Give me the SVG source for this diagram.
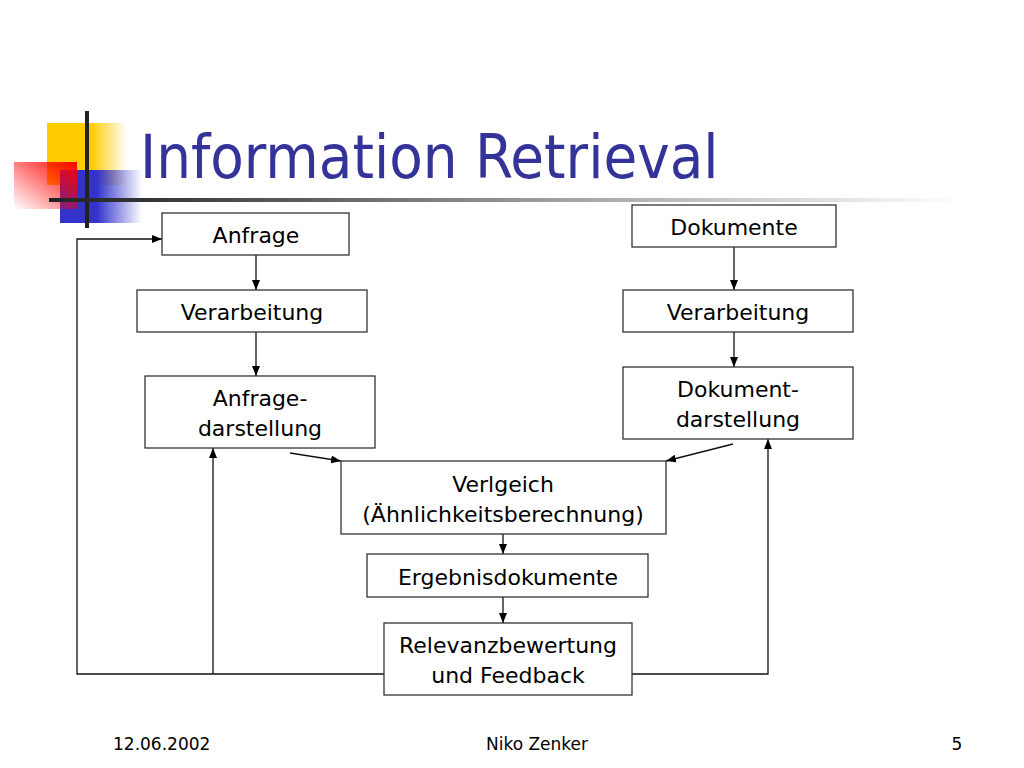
<svg xmlns="http://www.w3.org/2000/svg" width="1024" height="768" viewBox="0 0 1024 768">
<defs>
<style>
.box{fill:#fff;stroke:#333;stroke-width:1.3}
.t{font-family:"DejaVu Sans",sans-serif;font-size:22px;fill:#000;text-anchor:middle}
.c{fill:none;stroke:#111;stroke-width:1.3}
.f{font-family:"DejaVu Sans",sans-serif;font-size:17px;fill:#000}
</style>
<marker id="ah" markerWidth="10" markerHeight="8" refX="10" refY="4" orient="auto" markerUnits="userSpaceOnUse">
<path d="M0,0 L10,4 L0,8 Z" fill="#000"/>
</marker>
<linearGradient id="rule" x1="0" y1="0" x2="1" y2="0">
<stop offset="0" stop-color="#222"/>
<stop offset="0.1" stop-color="#333"/>
<stop offset="0.6" stop-color="#aaa"/>
<stop offset="1" stop-color="#fff"/>
</linearGradient>
<linearGradient id="yel" x1="0" y1="0" x2="1" y2="0">
<stop offset="0" stop-color="#FFCC00"/>
<stop offset="0.55" stop-color="#FFCC00"/>
<stop offset="1" stop-color="#FFCC00" stop-opacity="0"/>
</linearGradient>
<linearGradient id="blu" x1="0" y1="0" x2="1" y2="0">
<stop offset="0" stop-color="#3333CC"/>
<stop offset="0.45" stop-color="#3333CC"/>
<stop offset="1" stop-color="#3333CC" stop-opacity="0"/>
</linearGradient>
<linearGradient id="red" x1="1" y1="0" x2="0" y2="1">
<stop offset="0" stop-color="#FF0000"/>
<stop offset="1" stop-color="#FF0000" stop-opacity="0"/>
</linearGradient>
</defs>
<rect width="1024" height="768" fill="#fff"/>
<g id="logo">
<rect x="47" y="123" width="80" height="62" fill="url(#yel)"/>
<rect x="60" y="170" width="82" height="53" fill="url(#blu)"/>
<rect x="14" y="162" width="63" height="47" fill="url(#red)"/>
<rect x="85" y="111" width="4" height="117" fill="#222"/>
<rect x="49" y="198" width="911" height="4" fill="url(#rule)"/>
</g>
<text id="title" x="140" y="178" font-family="'DejaVu Sans Condensed','DejaVu Sans',sans-serif" font-size="61" fill="#333399">Information Retrieval</text>
<g id="connectors">
<line class="c" x1="256" y1="255" x2="256" y2="290" marker-end="url(#ah)"/>
<line class="c" x1="256" y1="332" x2="256" y2="376" marker-end="url(#ah)"/>
<line class="c" x1="734" y1="247" x2="734" y2="290" marker-end="url(#ah)"/>
<line class="c" x1="734" y1="332" x2="734" y2="367" marker-end="url(#ah)"/>
<line class="c" x1="290" y1="453" x2="341" y2="461" marker-end="url(#ah)"/>
<line class="c" x1="733" y1="444" x2="666" y2="461" marker-end="url(#ah)"/>
<line class="c" x1="503" y1="534" x2="503" y2="554" marker-end="url(#ah)"/>
<line class="c" x1="503" y1="597" x2="503" y2="623" marker-end="url(#ah)"/>
<polyline class="c" points="384,674 77,674 77,239 162,239" marker-end="url(#ah)"/>
<line class="c" x1="213" y1="674" x2="213" y2="448" marker-end="url(#ah)"/>
<polyline class="c" points="632,674 768,674 768,439" marker-end="url(#ah)"/>
</g>
<g id="n-anfrage"><rect class="box" x="162" y="213" width="187" height="42"/><text class="t" x="256" y="243">Anfrage</text></g>
<g id="n-verarb1"><rect class="box" x="137" y="290" width="230" height="42"/><text class="t" x="252" y="320">Verarbeitung</text></g>
<g id="n-anfragedar"><rect class="box" x="145" y="376" width="230" height="72"/><text class="t" x="260" y="406">Anfrage-</text><text class="t" x="260" y="436">darstellung</text></g>
<g id="n-dokumente"><rect class="box" x="632" y="205" width="204" height="42"/><text class="t" x="734" y="235">Dokumente</text></g>
<g id="n-verarb2"><rect class="box" x="623" y="290" width="230" height="42"/><text class="t" x="738" y="320">Verarbeitung</text></g>
<g id="n-dokdar"><rect class="box" x="623" y="367" width="230" height="72"/><text class="t" x="738" y="397">Dokument-</text><text class="t" x="738" y="427">darstellung</text></g>
<g id="n-vergleich"><rect class="box" x="341" y="461" width="325" height="73"/><text class="t" x="503" y="492">Verlgeich</text><text class="t" x="503" y="522">(Ähnlichkeitsberechnung)</text></g>
<g id="n-ergebnis"><rect class="box" x="367" y="554" width="281" height="43"/><text class="t" x="508" y="585">Ergebnisdokumente</text></g>
<g id="n-relevanz"><rect class="box" x="384" y="623" width="248" height="72"/><text class="t" x="508" y="653">Relevanzbewertung</text><text class="t" x="508" y="683">und Feedback</text></g>
<g id="footer">
<text class="f" x="113" y="750">12.06.2002</text>
<text class="f" x="537" y="750" text-anchor="middle">Niko Zenker</text>
<text class="f" x="957" y="750" text-anchor="middle">5</text>
</g>
</svg>
